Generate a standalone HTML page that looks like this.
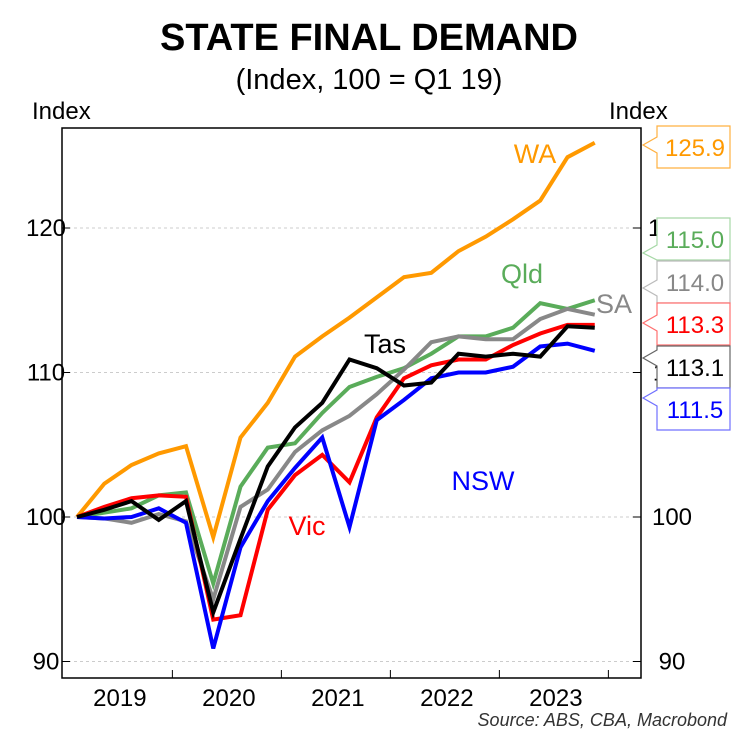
<!DOCTYPE html>
<html><head><meta charset="utf-8"><style>
body{margin:0;background:#fff;}
svg text{font-family:"Liberation Sans",Arial,sans-serif;}
</style></head><body>
<svg width="741" height="742" viewBox="0 0 741 742" xmlns="http://www.w3.org/2000/svg">
<text x="369" y="50" font-size="38" font-weight="bold" text-anchor="middle">STATE FINAL DEMAND</text>
<text x="369" y="89" font-size="29" text-anchor="middle">(Index, 100 = Q1 19)</text>
<text x="32" y="119" font-size="24">Index</text>
<text x="609" y="119" font-size="24">Index</text>
<g id="grid"></g>
<g id="axes"></g>
<g id="series"></g>
<g id="labels"></g>
<g id="boxes"></g>
<text x="727" y="726" font-size="18" font-style="italic" text-anchor="end" fill="#333">Source: ABS, CBA, Macrobond</text>
</svg>
<script>
const years = ["2019","2020","2021","2022","2023"];
const yTicks = [90,100,110,120];
const wa  = [100,102.3,103.6,104.4,104.9,98.6,105.5,107.9,111.1,112.5,113.8,115.2,116.6,116.9,118.4,119.4,120.6,121.9,124.9,125.9];
const qld = [100,100.3,100.6,101.5,101.7,95.4,102.1,104.8,105.1,107.2,109.0,109.7,110.3,111.3,112.5,112.5,113.1,114.8,114.4,115.0];
const sa  = [100,99.9,99.6,100.2,99.7,94.3,100.7,101.9,104.5,106.0,107.0,108.5,110.2,112.1,112.5,112.3,112.3,113.7,114.4,114.0];
const vic = [100,100.7,101.3,101.5,101.4,92.9,93.2,100.5,102.9,104.3,102.4,106.9,109.6,110.5,110.9,110.9,111.9,112.7,113.3,113.3];
const tas = [100,100.5,101.1,99.8,101.1,93.4,98.5,103.5,106.2,107.9,110.9,110.3,109.1,109.3,111.3,111.1,111.3,111.1,113.2,113.1];
const nsw = [100,99.9,100.0,100.6,99.6,90.9,97.9,101.1,103.4,105.5,99.3,106.7,108.1,109.6,110.0,110.0,110.4,111.8,112.0,111.5];
const NS="http://www.w3.org/2000/svg";
const X0=62,X1=641,Y0=128,Y1=678;
const xq=i=>77+i*27.25;
const yv=v=>517-(v-100)*14.45;
function mk(parent,tag,attrs,text){const e=document.createElementNS(NS,tag);for(const k in attrs)e.setAttribute(k,attrs[k]);if(text!==undefined)e.textContent=text;document.getElementById(parent).appendChild(e);return e;}
yTicks.forEach(t=>{
 const y=yv(t);
 const g=mk('grid','line',{x1:X0,x2:X1,y1:y,y2:y,stroke:'#ccc','stroke-dasharray':'3,3'});
 
 
 mk('axes','line',{x1:X0,x2:X0+8,y1:y,y2:y,stroke:'#000'});
 mk('axes','line',{x1:X1-8,x2:X1,y1:y,y2:y,stroke:'#000'});
 const l=mk('axes','text',{x:46,y:y+8,'font-size':24,'text-anchor':'middle'},t);
 
 
 if(t!==120){const r=mk('axes','text',{x:672,y:y+8,'font-size':24,'text-anchor':'middle'},t);
 
 }
 else{mk('axes','text',{x:648,y:y+8,'font-size':24},'1');}
});
mk('axes','rect',{x:X0,y:Y0,width:X1-X0,height:Y1-Y0,fill:'none',stroke:'#000','stroke-width':1.5});
years.forEach((yr,k)=>{
 const xb=xq(4*k+3.5);
 mk('axes','line',{x1:xb,x2:xb,y1:Y1,y2:Y1-8,stroke:'#000'});
 const t=mk('axes','text',{x:xq(4*k+1.5)+2,y:706,'font-size':24,'text-anchor':'middle'},yr);
 
 
});
const S=[['wa',wa,'#ff9900'],['qld',qld,'#5aac5a'],['sa',sa,'#888888'],['vic',vic,'#ff0000'],['nsw',nsw,'#0000ff'],['tas',tas,'#000000']];
S.forEach(([n,d,c])=>{
 const p=mk('series','polyline',{points:d.map((v,i)=>xq(i)+','+yv(v)).join(' '),fill:'none',stroke:c,'stroke-width':4,'stroke-linejoin':'miter'});
 
 
});
[['WA',535,163,'#ff9900'],['Qld',522,283,'#5aac5a'],['SA',614,313,'#888888'],['Tas',385,353,'#000'],['NSW',483,490,'#0000ff'],['Vic',307,535,'#ff0000']].forEach(([t,x,y,c])=>{
 const e=mk('labels','text',{x:x,y:y,'font-size':27,'text-anchor':'middle',fill:c},t);
 
 
});
const boxes=[['wa',wa,'#ff9900','#ffb040',126,145],['qld',qld,'#5aac5a','#a6d8a6',218,253],['sa',sa,'#888888','#bbbbbb',261,288],['vic',vic,'#ff0000','#ff7070',303,323],['tas',tas,'#000000','#666666',346,358],['nsw',nsw,'#0000ff','#7070ff',388,398]];
boxes.forEach(([n,d,c,bc,top,tip])=>{
 const h=42,L=657,R=730;
 const ay=Math.min(Math.max(tip,top+4),top+h-4);
 const p=mk('boxes','path',{d:`M${L},${top} H${R} V${top+h} H${L} V${Math.min(ay+8,top+h)} L643,${tip} L${L},${Math.max(ay-8,top)} Z`,fill:'#fff',stroke:bc,'stroke-width':1.2});
 
 
 const t=mk('boxes','text',{x:695,y:top+30,'font-size':24,'text-anchor':'middle',fill:c},d[d.length-1].toFixed(1));
 
 
});
</script>
</body></html>
